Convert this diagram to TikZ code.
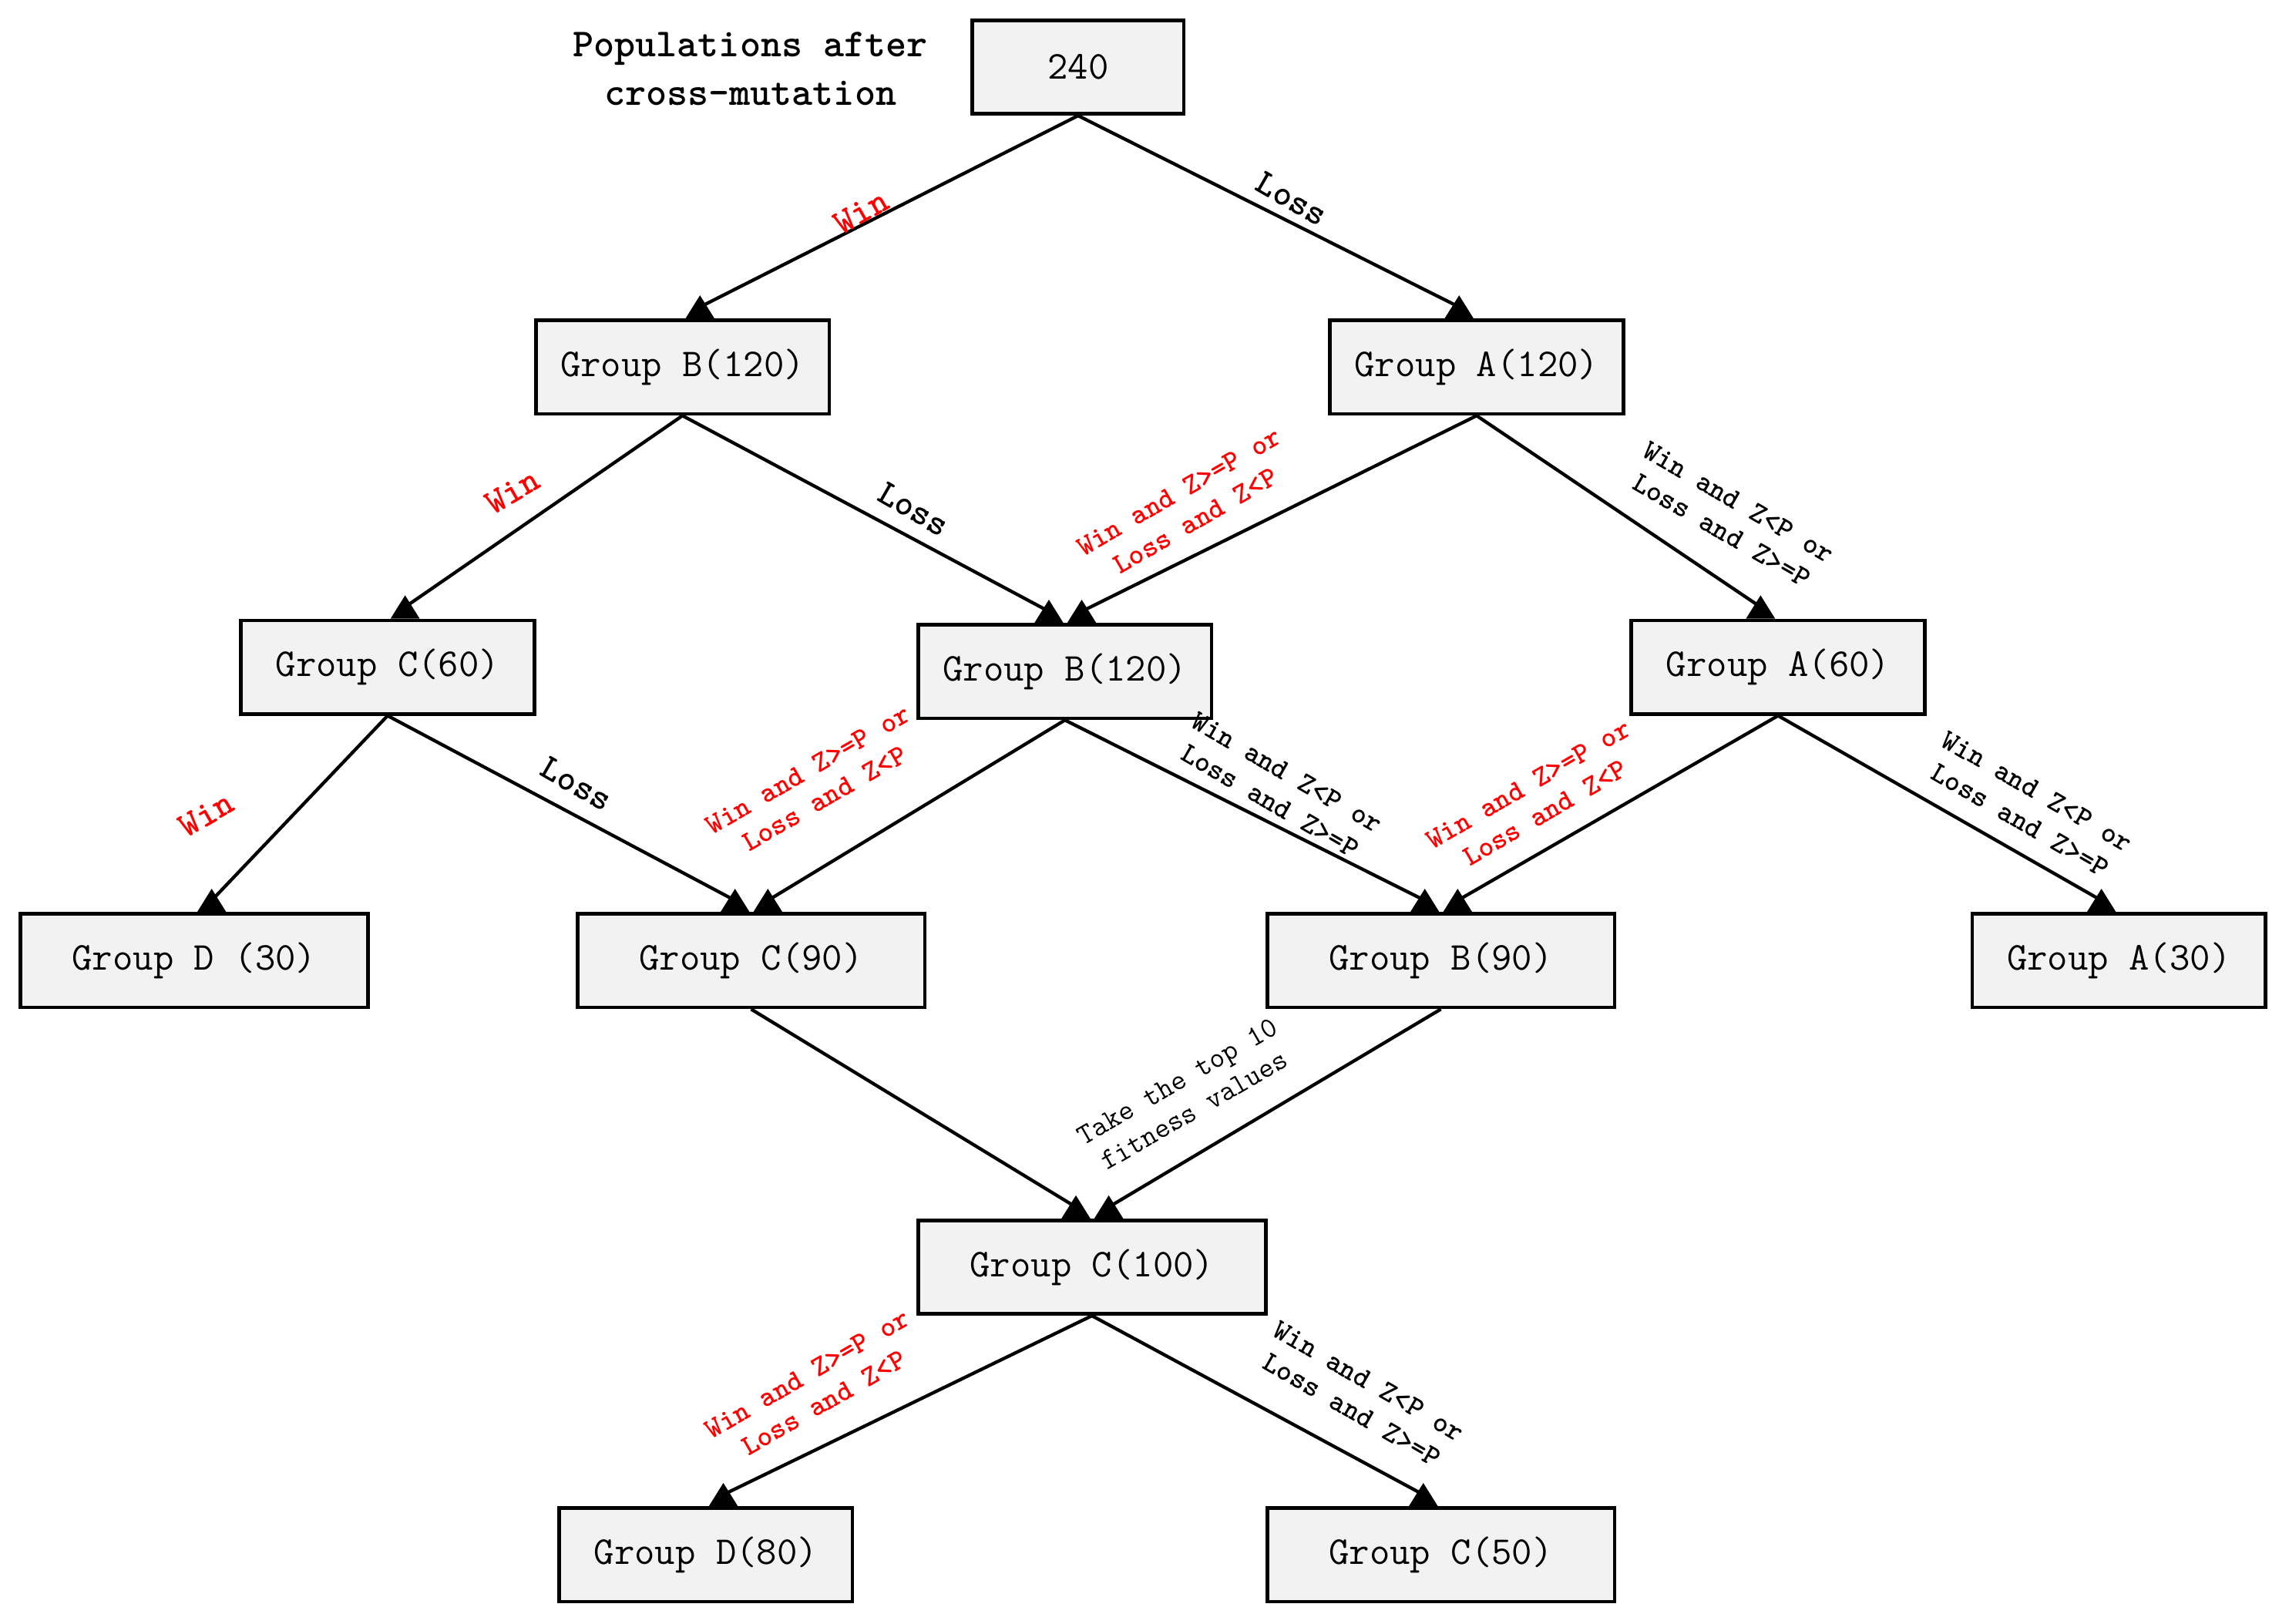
\documentclass[tikz,border=0pt]{standalone}
\renewcommand{\familydefault}{\ttdefault}
\definecolor{boxgray}{RGB}{242,242,242}

\begin{document}
\begin{tikzpicture}[x=0.02cm,y=-0.02cm,
    grp/.style={draw,line width=1.4pt,fill=boxgray,inner sep=0pt,
      minimum height=1.28cm,font=\fontsize{15.4}{18}\selectfont},
    wide/.style={grp,minimum width=4.76cm},
    narrow/.style={grp,minimum width=4.02cm},
    link/.style={line width=1.3pt},
    bigl/.style={font=\bfseries\fontsize{14}{16}\selectfont,inner sep=0pt},
    lbl/.style={font=\bfseries\fontsize{11.4}{13}\selectfont,align=center,inner sep=0pt},
    tip/.pic={\fill (-0.2cm,-0.16cm) -- (0.2cm,-0.16cm) -- (0cm,0.16cm) -- cycle;}]
\useasboundingbox (0,0) rectangle (1568,1112);

% define the groups
  \node[font=\bfseries\fontsize{15.5}{19}\selectfont,align=center]
        (title) at (514,47) {Populations after\\cross-mutation};
  \node[grp,minimum width=2.9cm] (n240) at (738.5,46)  {240};
  \node[narrow] (gB1) at (467.5,251.5) {Group B(120)};
  \node[narrow] (gA1) at (1011.5,251.5) {Group A(120)};
  \node[narrow] (gC1) at (265.5,457)   {Group C(60)};
  \node[narrow] (gB2) at (729.5,460)   {Group B(120)};
  \node[narrow] (gA2) at (1218,457)    {Group A(60)};
  \node[wide]   (gD1) at (133,658)     {Group D (30)};
  \node[wide]   (gC2) at (514.5,658)   {Group C(90)};
  \node[wide]   (gB3) at (987,658)     {Group B(90)};
  \node[narrow] (gA3) at (1451.5,658)  {Group A(30)};
  \node[wide]   (gC3) at (748,868)     {Group C(100)};
  \node[narrow] (gD2) at (483.5,1065)  {Group D(80)};
  \node[wide]   (gC4) at (987,1065)    {Group C(50)};

% define the arrival points
  \coordinate (t1)  at ([xshift=0.24cm,yshift=0.16cm]gB1.north);
  \coordinate (t2)  at ([xshift=-0.24cm,yshift=0.16cm]gA1.north);
  \coordinate (t3)  at ([xshift=0.24cm,yshift=0.16cm]gC1.north);
  \coordinate (t4)  at ([xshift=-0.22cm,yshift=0.16cm]gB2.north);
  \coordinate (t5)  at ([xshift=0.23cm,yshift=0.16cm]gB2.north);
  \coordinate (t6)  at ([xshift=-0.24cm,yshift=0.16cm]gA2.north);
  \coordinate (t7)  at ([xshift=0.24cm,yshift=0.16cm]gD1.north);
  \coordinate (t8)  at ([xshift=-0.22cm,yshift=0.16cm]gC2.north);
  \coordinate (t9)  at ([xshift=0.23cm,yshift=0.16cm]gC2.north);
  \coordinate (t10) at ([xshift=-0.22cm,yshift=0.16cm]gB3.north);
  \coordinate (t11) at ([xshift=0.23cm,yshift=0.16cm]gB3.north);
  \coordinate (t12) at ([xshift=-0.24cm,yshift=0.16cm]gA3.north);
  \coordinate (t13) at ([xshift=-0.22cm,yshift=0.16cm]gC3.north);
  \coordinate (t14) at ([xshift=0.23cm,yshift=0.16cm]gC3.north);
  \coordinate (t15) at ([xshift=0.24cm,yshift=0.16cm]gD2.north);
  \coordinate (t16) at ([xshift=-0.24cm,yshift=0.16cm]gC4.north);

% define the links
  \path[link] (n240.south) edge node[bigl,red,xshift=-0.38cm,yshift=-0.01cm,rotate=30] {Win} (t1)
                edge node[bigl,xshift=0.32cm,yshift=0.17cm,rotate=-30] {Loss} (t2)
        (gB1.south) edge node[bigl,red,xshift=-0.43cm,yshift=0.27cm,rotate=30] {Win} (t3)
                edge node[bigl,xshift=0.66cm,yshift=0.06cm,rotate=-30] {Loss} (t4)
        (gA1.south) edge node[lbl,red,xshift=-1.26cm,yshift=0.10cm,rotate=30] {Win and Z>=P or\\Loss and Z<P} (t5)
                edge node[lbl,xshift=1.53cm,yshift=-0.07cm,rotate=-30] {Win and Z<P or\\Loss and Z>=P} (t6)
        (gC1.south) edge node[bigl,red,xshift=-1.28cm,yshift=-0.09cm,rotate=30] {Win} (t7)
                edge node[bigl,xshift=0.21cm,yshift=0.33cm,rotate=-30] {Loss} (t8)
        (gB2.south) edge node[lbl,red,xshift=-1.37cm,yshift=0.36cm,rotate=30] {Win and Z>=P or\\Loss and Z<P} (t9)
                edge node[lbl,xshift=0.46cm,yshift=0.32cm,rotate=-30] {Win and Z<P or\\Loss and Z>=P} (t10)
        (gA2.south) edge node[lbl,red,xshift=-1.11cm,yshift=0.13cm,rotate=30] {Win and Z>=P or\\Loss and Z<P} (t11)
                edge node[lbl,xshift=1.22cm,yshift=0.03cm,rotate=-30] {Win and Z<P or\\Loss and Z>=P} (t12)
        (gC2.south) edge (t13)
        (gB3.south) edge node[lbl,font=\fontsize{11.4}{13}\selectfont,xshift=-1.22cm,yshift=0.17cm,rotate=30] {Take the top 10\\fitness values} (t14)
        (gC3.south) edge node[lbl,red,xshift=-1.26cm,yshift=0.23cm,rotate=30] {Win and Z>=P or\\Loss and Z<P} (t15)
                edge node[lbl,xshift=1.41cm,yshift=0.13cm,rotate=-30] {Win and Z<P or\\Loss and Z>=P} (t16);

% arrow heads
  \foreach \i in {1,...,16}
    \pic at (t\i) {tip};
\end{tikzpicture}
\end{document}
